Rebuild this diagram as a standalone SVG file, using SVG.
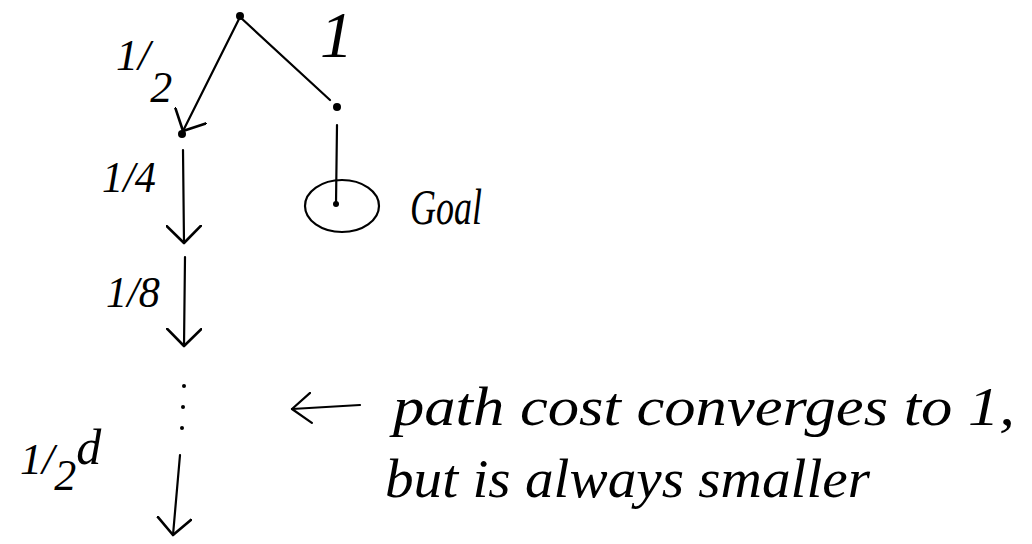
<svg xmlns="http://www.w3.org/2000/svg" width="1032" height="544" viewBox="0 0 1032 544">
<style>
.ln{stroke:#000;stroke-width:2.2;fill:none;stroke-linecap:round;stroke-linejoin:round}
.dot{fill:#000}
.hw{font-family:"Liberation Serif","DejaVu Serif",serif;font-style:italic;fill:#000}
</style>
<defs>
<marker id="v" viewBox="0 0 20 36" refX="18" refY="18" markerWidth="20" markerHeight="36" markerUnits="userSpaceOnUse" orient="auto">
<path d="M1,1 L18,18 L1,35" fill="none" stroke="#000" stroke-width="2.6" stroke-linecap="round" stroke-linejoin="round"/>
</marker>
<marker id="vs" viewBox="0 0 22 32" refX="20" refY="16" markerWidth="22" markerHeight="32" markerUnits="userSpaceOnUse" orient="auto">
<path d="M1,1 L20,16 L1,31" fill="none" stroke="#000" stroke-width="2.2" stroke-linecap="round" stroke-linejoin="round"/>
</marker>
</defs>
<rect width="1032" height="544" fill="#fff"/>
<g id="connectors">
<path class="ln" d="M240,17 L183,131" marker-end="url(#v)"/>
<path class="ln" d="M240,17 L330,100"/>
<path class="ln" d="M337,125 L336,204"/>
<path class="ln" d="M183,150 L184,243" marker-end="url(#v)"/>
<path class="ln" d="M185,257 L184,346" marker-end="url(#v)"/>
<circle class="dot" cx="184" cy="386" r="2"/>
<circle class="dot" cx="183" cy="407" r="2"/>
<circle class="dot" cx="182" cy="428" r="2"/>
<path class="ln" d="M180,455 L173,535" marker-end="url(#v)"/>
<path class="ln" d="M360,405 L292,409" marker-end="url(#vs)"/>
</g>
<g id="root"><circle class="dot" cx="240" cy="16" r="4"/></g>
<g id="left-child"><circle class="dot" cx="182" cy="134" r="4"/></g>
<g id="right-child"><circle class="dot" cx="337" cy="107" r="4"/></g>
<g id="goal">
<ellipse class="ln" cx="342" cy="206" rx="37" ry="26"/>
<circle class="dot" cx="336" cy="204" r="3"/>
<text class="hw" x="410" y="224" font-size="50" textLength="72" lengthAdjust="spacingAndGlyphs">Goal</text>
</g>
<g id="labels">
<text class="hw" x="320" y="57" font-size="66">1</text>
<text class="hw" x="116" y="70" font-size="44">1<tspan>/</tspan><tspan dy="32">2</tspan></text>
<text class="hw" x="102" y="192" font-size="44" textLength="54" lengthAdjust="spacingAndGlyphs">1/4</text>
<text class="hw" x="106" y="307" font-size="44" textLength="54" lengthAdjust="spacingAndGlyphs">1/8</text>
<text class="hw" x="20" y="474" font-size="44">1/<tspan dy="16">2</tspan><tspan dy="-26" font-size="50">d</tspan></text>
</g>
<g id="note">
<text class="hw" x="393" y="425" font-size="54" textLength="622" lengthAdjust="spacingAndGlyphs">path cost converges to 1,</text>
<text class="hw" x="385" y="497" font-size="54" textLength="485" lengthAdjust="spacingAndGlyphs">but is always smaller</text>
</g>
</svg>
